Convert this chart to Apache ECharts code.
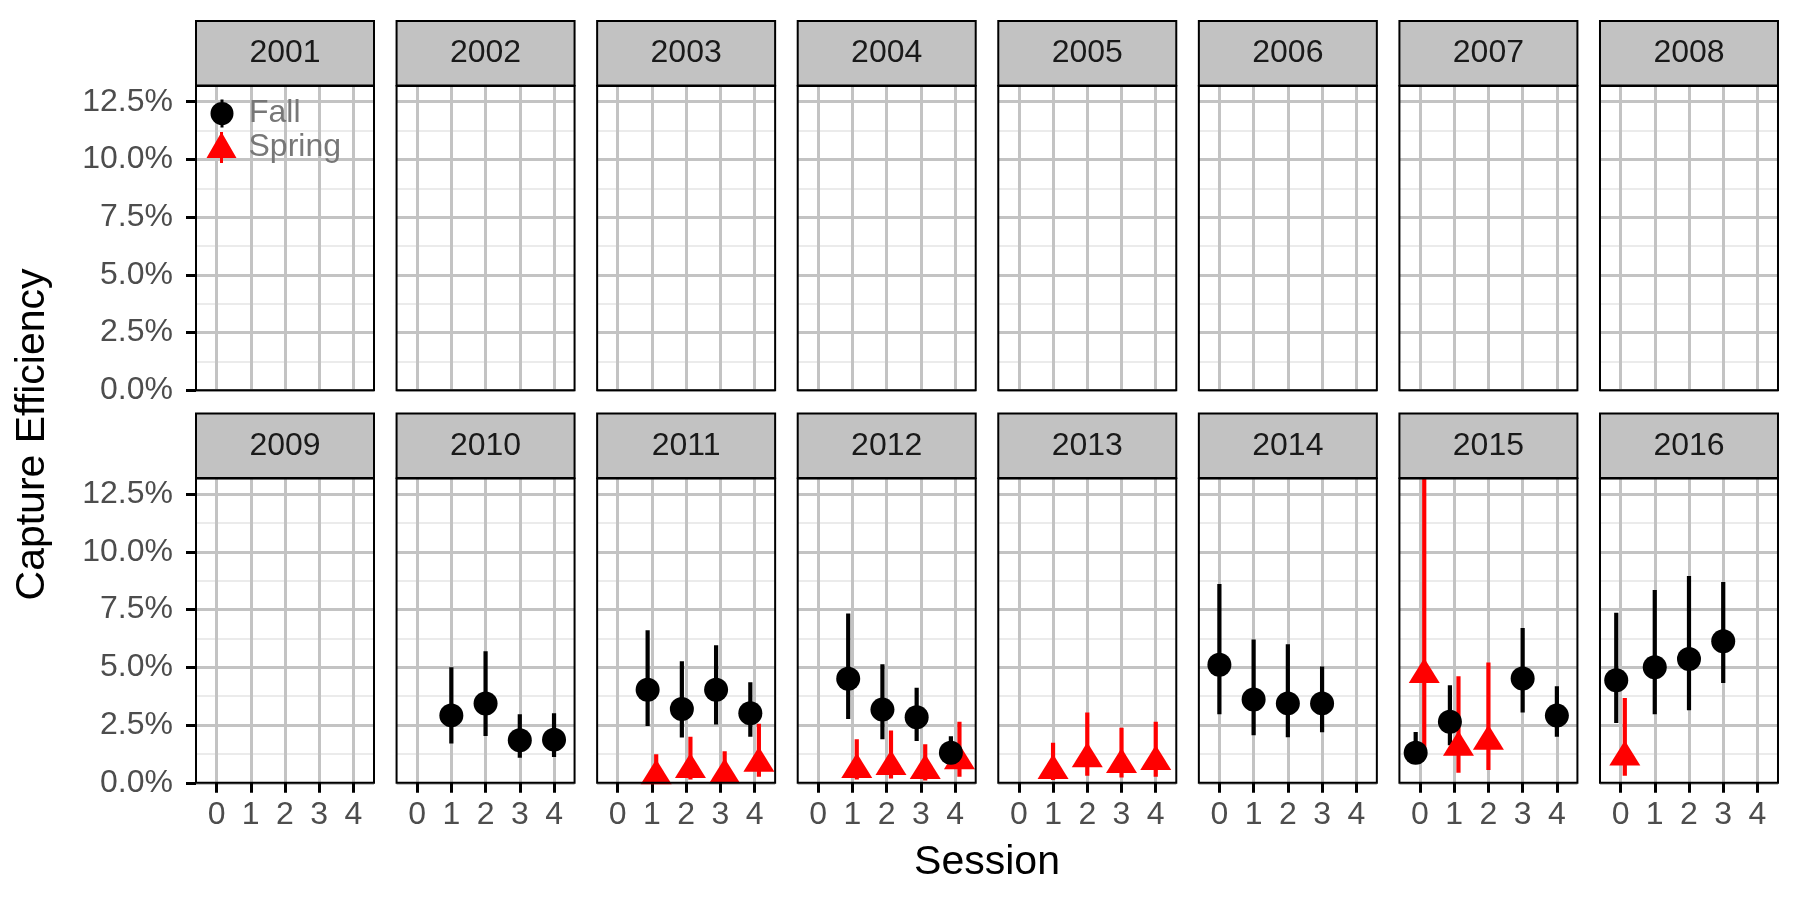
<!DOCTYPE html>
<html>
<head>
<meta charset="utf-8">
<script src="https://cdn.jsdelivr.net/npm/echarts@6/dist/echarts.min.js"></script>
<style>
html,body{margin:0;padding:0;background:#fff;}
#chart{width:1799px;height:899px;}
</style>
</head>
<body>
<div id="chart"></div>
<script>
// ---------- data ----------
const years = [2001, 2002, 2003, 2004, 2005, 2006, 2007, 2008,
               2009, 2010, 2011, 2012, 2013, 2014, 2015, 2016];
const sessions = [0, 1, 2, 3, 4];
const yTicks = [0, 0.025, 0.05, 0.075, 0.1, 0.125];
const yMax = 0.1318;

// Fall estimates with lower / upper bounds
const fallYear    = [2010, 2010, 2010, 2010, 2011, 2011, 2011, 2011, 2012, 2012, 2012, 2012, 2014, 2014, 2014, 2014, 2015, 2015, 2015, 2015, 2016, 2016, 2016, 2016];
const fallSession = [1, 2, 3, 4, 1, 2, 3, 4, 1, 2, 3, 4, 0, 1, 2, 3, 0, 1, 3, 4, 0, 1, 2, 3];
const fallEst     = [0.0292, 0.0343, 0.0184, 0.0187, 0.0403, 0.0320, 0.0403, 0.0301, 0.0451, 0.0317, 0.0284, 0.0130, 0.0511, 0.0361, 0.0344, 0.0344, 0.0130, 0.0264, 0.0452, 0.0291, 0.0444, 0.0500, 0.0536, 0.0613];
const fallLow     = [0.0170, 0.0203, 0.0108, 0.0112, 0.0246, 0.0196, 0.0253, 0.0199, 0.0276, 0.0189, 0.0181, 0.0085, 0.0297, 0.0206, 0.0197, 0.0219, 0.0085, 0.0163, 0.0304, 0.0199, 0.0259, 0.0297, 0.0314, 0.0432];
const fallHigh    = [0.0501, 0.0570, 0.0297, 0.0301, 0.0661, 0.0526, 0.0596, 0.0436, 0.0733, 0.0514, 0.0412, 0.0202, 0.0861, 0.0621, 0.0600, 0.0504, 0.0220, 0.0422, 0.0670, 0.0418, 0.0736, 0.0835, 0.0896, 0.0870];

// Spring estimates with lower / upper bounds
const springYear    = [2011, 2011, 2011, 2011, 2012, 2012, 2012, 2012, 2013, 2013, 2013, 2013, 2015, 2015, 2015, 2016];
const springSession = [1, 2, 3, 4, 1, 2, 3, 4, 1, 2, 3, 4, 0, 1, 2, 0];
const springEst     = [0.0030, 0.0058, 0.0035, 0.0085, 0.0058, 0.0071, 0.0053, 0.0096, 0.0053, 0.0104, 0.0079, 0.0092, 0.0469, 0.0154, 0.0180, 0.0112];
const springLow     = [0.0005, 0.0014, 0.0007, 0.0026, 0.0014, 0.0019, 0.0010, 0.0026, 0.0012, 0.0030, 0.0023, 0.0026, 0.0148, 0.0043, 0.0055, 0.0030];
const springHigh    = [0.0124, 0.0199, 0.0137, 0.0256, 0.0189, 0.0226, 0.0167, 0.0264, 0.0174, 0.0305, 0.0238, 0.0264, 0.1318, 0.0461, 0.0521, 0.0367];

// ---------- layout ----------
const FONT = 'Liberation Sans, Arial, sans-serif';
const PANEL_LEFT0 = 196, PITCH = 200.57, PANEL_W = 178, PANEL_H = 304.3;
const ROW_TOP = [86, 478.5];
const STRIP_TOP = [21, 413.5], STRIP_H = 64.5;
const DODGE = 0.125;
const MAJOR = '#C3C3C3', MINOR = '#E5E5E5';

// dodge positions: shift only where both seasons share a session in the same year
const both = new Set();
fallYear.forEach((y, i) => {
  for (let j = 0; j < springYear.length; j++) {
    if (springYear[j] === y && springSession[j] === fallSession[i]) both.add(y + '_' + fallSession[i]);
  }
});

const grids = [], xAxes = [], yAxes = [], series = [], graphics = [];
years.forEach((yr, g) => {
  const col = g % 8, row = Math.floor(g / 8);
  const left = PANEL_LEFT0 + col * PITCH, top = ROW_TOP[row];
  grids.push({left: left, top: top, width: PANEL_W, height: PANEL_H, containLabel: false, show: false});
  const bottomRow = row === 1, leftCol = col === 0;
  xAxes.push({
    type: 'value', gridIndex: g, min: -0.6, max: 4.6, z: 2, position: 'bottom',
    axisLine: {show: false, onZero: false},
    axisTick: {show: bottomRow, customValues: sessions, length: 10, lineStyle: {color: '#000', width: 3}},
    axisLabel: {show: bottomRow, customValues: sessions, color: '#4D4D4D', fontSize: 32, fontFamily: FONT, margin: 16},
    splitLine: {show: true, lineStyle: {color: MAJOR, width: 3}},
    minorSplitLine: {show: false}
  });
  // major y axis
  yAxes.push({
    type: 'value', gridIndex: g, min: 0, max: yMax, z: 2, position: 'left',
    axisLine: {show: false, onZero: false},
    axisTick: {show: leftCol, customValues: yTicks, length: 10, lineStyle: {color: '#000', width: 3}},
    axisLabel: {show: leftCol, customValues: yTicks, color: '#4D4D4D', fontSize: 32, fontFamily: FONT, margin: 23,
      formatter: v => (v * 100).toFixed(1) + '%'},
    splitLine: {show: true, lineStyle: {color: MAJOR, width: 3}}
  });
  // minor y axis (grid lines only)
  yAxes.push({
    type: 'value', gridIndex: g, min: 0, max: yMax, interval: 0.0125, z: 1, position: 'left',
    axisLine: {show: false, onZero: false}, axisTick: {show: false}, axisLabel: {show: false},
    splitLine: {show: true, lineStyle: {color: MINOR, width: 1.6}}
  });

  const fallData = [], springData = [];
  fallYear.forEach((y, i) => {
    if (y !== yr) return;
    const x = fallSession[i] - (both.has(y + '_' + fallSession[i]) ? DODGE : 0);
    fallData.push([x, fallEst[i], fallLow[i], fallHigh[i]]);
  });
  springYear.forEach((y, i) => {
    if (y !== yr) return;
    const x = springSession[i] + (both.has(y + '_' + springSession[i]) ? DODGE : 0);
    springData.push([x, springEst[i], springLow[i], springHigh[i]]);
  });
  const barSeries = (name, data, color) => ({
    type: 'custom', name: name, xAxisIndex: g, yAxisIndex: 2 * g, z: 5, clip: true,
    itemStyle: {color: color}, silent: true,
    encode: {x: 0, y: [2, 3]},
    data: data,
    renderItem: (params, api) => {
      const x = api.value(0);
      const p1 = api.coord([x, api.value(2)]);
      const p2 = api.coord([x, api.value(3)]);
      return {type: 'line', shape: {x1: p1[0], y1: p1[1], x2: p2[0], y2: p2[1]},
        style: {stroke: color, lineWidth: 4.2}};
    }
  });
  series.push({
    type: 'scatter', name: 'Fall', xAxisIndex: g, yAxisIndex: 2 * g, z: 7,
    symbol: 'circle', symbolSize: 24, itemStyle: {color: '#000', opacity: 1},
    encode: {x: 0, y: 1}, data: fallData, silent: true
  });
  series.push({
    type: 'scatter', name: 'Spring', xAxisIndex: g, yAxisIndex: 2 * g, z: 6,
    symbol: 'triangle', symbolSize: [31, 25], symbolOffset: [0, -4], itemStyle: {color: '#FF0000', opacity: 1},
    encode: {x: 0, y: 1}, data: springData, silent: true
  });
  series.push(barSeries('Fall', fallData, '#000000'));
  series.push(barSeries('Spring', springData, '#FF0000'));

  // panel border
  graphics.push({type: 'rect', z: 20, silent: true,
    shape: {x: left, y: top, width: PANEL_W, height: PANEL_H},
    style: {fill: 'none', stroke: '#000', lineWidth: 2}});
  // strip
  graphics.push({type: 'rect', z: 20, silent: true,
    shape: {x: left, y: STRIP_TOP[row], width: PANEL_W, height: STRIP_H},
    style: {fill: '#C2C2C2', stroke: '#000', lineWidth: 2}});
  graphics.push({type: 'text', z: 21, silent: true,
    x: left + PANEL_W / 2, y: STRIP_TOP[row] + STRIP_H / 2,
    style: {text: String(yr), fill: '#1A1A1A', font: '32px ' + FONT, align: 'center', verticalAlign: 'middle'}});
});

// axis titles
graphics.push({type: 'text', z: 21, silent: true, x: 987, y: 863,
  style: {text: 'Session', fill: '#000', font: '41px ' + FONT, align: 'center', verticalAlign: 'middle'}});
graphics.push({type: 'text', z: 21, silent: true, x: 33, y: 434.5, rotation: Math.PI / 2,
  style: {text: 'Capture Efficiency', fill: '#000', font: '41px ' + FONT, align: 'center', verticalAlign: 'middle'}});

const fallIcon = 'path://M0.5,14 A11.5,11.5 0 1,1 23.5,14 A11.5,11.5 0 1,1 0.5,14 Z M10.5,0 L13.5,0 L13.5,28 L10.5,28 Z';
const springIcon = 'path://M15,0 L30,26 L0,26 Z M13.5,0 L16.5,0 L16.5,31 L13.5,31 Z';
const legendText = {color: '#777777', fontSize: 32, fontFamily: FONT, lineHeight: 32};

const chart = echarts.init(document.getElementById('chart'));
chart.setOption({
  animation: false,
  backgroundColor: '#fff',
  grid: grids,
  xAxis: xAxes,
  yAxis: yAxes,
  legend: [
    {left: 210.5, top: 97.5, padding: 0, itemWidth: 44, itemHeight: 28, selectedMode: false, symbolKeepAspect: true,
     textStyle: legendText, data: [{name: 'Fall', icon: fallIcon, itemStyle: {color: '#000'}}]},
    {left: 206.5, top: 131.5, padding: 0, itemWidth: 44, itemHeight: 31, selectedMode: false, symbolKeepAspect: true,
     textStyle: legendText, data: [{name: 'Spring', icon: springIcon, itemStyle: {color: '#FF0000'}}]}
  ],
  graphic: graphics,
  series: series
});
</script>
</body>
</html>
